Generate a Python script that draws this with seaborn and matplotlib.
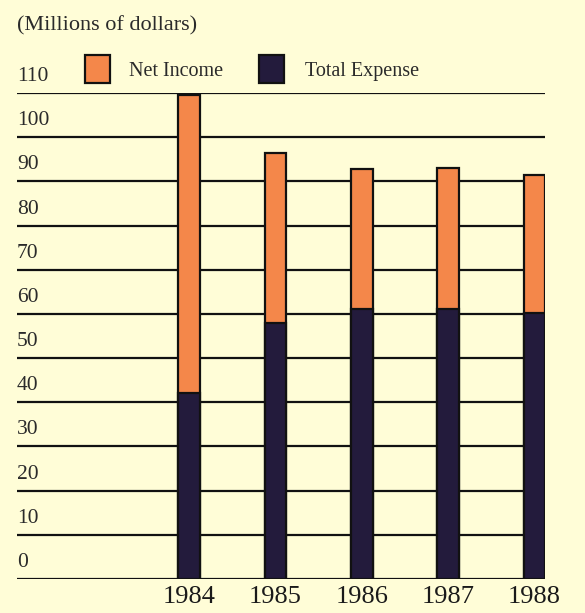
import matplotlib
matplotlib.use("Agg")
import matplotlib.pyplot as plt
from matplotlib.patches import Rectangle
from matplotlib import transforms
import seaborn as sns
import pandas as pd

# Operating results, millions of dollars
years = ["1984", "1985", "1986", "1987", "1988"]
total_expense = [42.0, 58.0, 61.0, 61.1, 60.2]
net_income = [67.5, 38.4, 31.8, 32.0, 31.2]
y_ticks = [0, 10, 20, 30, 40, 50, 60, 70, 80, 90, 100, 110]

BG = "#FFFDD7"
ORANGE = "#F4874A"
NAVY = "#231B3C"
SERIF = "Liberation Serif"

df = pd.DataFrame({
    "year": years,
    "expense": total_expense,
    "income": net_income,
})
df["total"] = df["expense"] + df["income"]

sns.set_theme(style="white")
plt.rcParams["font.family"] = [SERIF, "DejaVu Serif"]

W, H = 585, 613
fig = plt.figure(figsize=(W / 100, H / 100), dpi=100, facecolor=BG)
ax = fig.add_axes([17 / W, (H - 579) / H, (545 - 17) / W, (579 - 93) / H])
ax.set_facecolor(BG)

# horizontal rules behind the bars
for v in y_ticks:
    ax.axhline(v, color="#111111", lw=1.6, zorder=0)

# stacked bars: full height in orange, expense portion in navy over it
sns.barplot(data=df, x="year", y="total", color=ORANGE, saturation=1,
            width=0.25, edgecolor="#111111", linewidth=1.6, ax=ax, zorder=2)
sns.barplot(data=df, x="year", y="expense", color=NAVY, saturation=1,
            width=0.25, edgecolor="#111111", linewidth=1.6, ax=ax, zorder=3)

ax.set_xlim(-1.99, 4.12)
ax.set_ylim(0, 110)
for s in ax.spines.values():
    s.set_visible(False)
ax.set_yticks([])
ax.set_xlabel("")
ax.set_ylabel("")
ax.tick_params(axis="x", length=0, pad=5, labelsize=19, colors="#1a1a1a")
for lbl in ax.get_xticklabels():
    lbl.set_fontfamily(SERIF)

# value labels sitting above each rule at the left edge
lab_tr = transforms.offset_copy(
    transforms.blended_transform_factory(ax.transAxes, ax.transData),
    fig=fig, x=0, y=12, units="dots")
for v in y_ticks:
    ax.text(0.0, v, str(v), transform=lab_tr, ha="left", va="baseline",
            fontsize=15.5, color="#2a2a2a", family=SERIF)

# unit caption
fig.text(17 / W, 1 - 30 / H, "(Millions of dollars)", ha="left",
         va="baseline", fontsize=16, color="#2a2a2a", family=SERIF)

# legend
def key(x0, color, label, tx):
    fig.patches.append(Rectangle((x0 / W, 1 - 83 / H), 25 / W, 28 / H,
                                 transform=fig.transFigure, facecolor=color,
                                 edgecolor="#111111", lw=1.6))
    fig.text(tx / W, 1 - 76 / H, label, ha="left", va="baseline",
             fontsize=14.5, color="#2a2a2a", family=SERIF)

key(85, ORANGE, "Net Income", 129)
key(259, NAVY, "Total Expense", 305)

fig.savefig("out.png", dpi=100, facecolor=BG)
